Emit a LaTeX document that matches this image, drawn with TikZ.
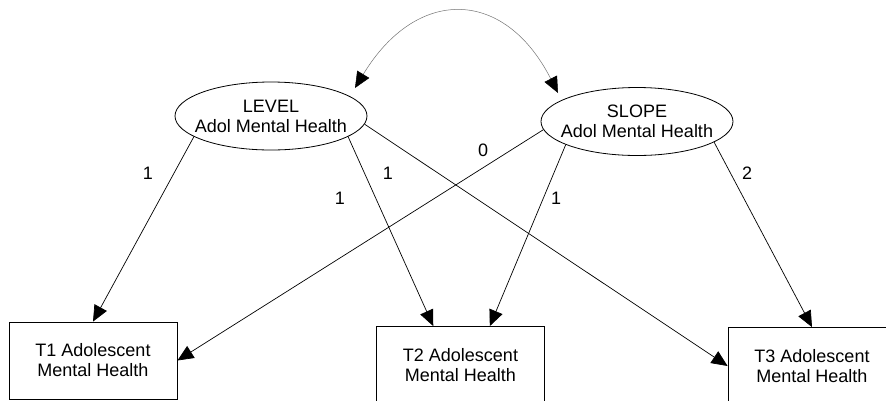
\documentclass[tikz,border=0pt]{standalone}
\usepackage{fontspec}
\setmainfont{Liberation Sans}
\usepackage{tikz}
\usetikzlibrary{
  positioning,
  arrows.meta,
  shapes.geometric,
  calc
}
\newcommand{\dgfont}{\fontsize{18}{20}\selectfont}
\tikzset{
  latent/.style={draw, ellipse, line width=0.8pt,
    minimum width=192pt, minimum height=68pt, inner sep=0pt},
  lattext/.style={align=center, font=\dgfont, inner sep=0pt},
  observed/.style={draw, rectangle, line width=0.8pt,
    minimum width=168pt, minimum height=77pt, align=center, font=\dgfont},
  load/.style={line width=0.7pt, -{Triangle[length=16pt,width=14pt]}},
  cov/.style={draw=black!55, line width=0.5pt,
    {Triangle[length=16pt,width=14pt,black]}-{Triangle[length=16pt,width=14pt,black]}},
  wt/.style={font=\dgfont, inner sep=1pt}
}

\begin{document}
\begin{tikzpicture}[x=1pt, y=-1pt]
  \useasboundingbox (0,0) rectangle (886,400);
  \clip (0,0) rectangle (886,400);
  % latente Faktoren
  \node[latent] (lvl) at (271,116) {};
  \node[lattext] (lvltxt) at (lvl) {LEVEL\\Adol Mental Health};
  \node[latent] (slp) at (637,121.5) {};
  \node[lattext] (slptxt) at (slp) {SLOPE\\Adol Mental Health};
  % Messzeitpunkte
  \node[observed] (t1) at (93,360.5) {T1 Adolescent\\Mental Health};
  \node[observed] (t2) at (460.5,365) {T2 Adolescent\\Mental Health};
  \node[observed] (t3) at (812,366) {T3 Adolescent\\Mental Health};

  % Kovarianz
  \coordinate (covl) at (355,88);
  \coordinate (covr) at (558,93);
  \draw[cov] (covl) .. controls (416,-13) and (504,-13) .. (covr);

  % Ladungen LEVEL
  \draw[load] (lvl.195) -- (t1.north);
  \draw[load] (lvl.-15) -- (t2.125);
  \draw[load] (lvl.-5) -- (t3.west);
  % Ladungen SLOPE
  \draw[load] (slp.185) -- (t1.east);
  \draw[load] (slp.198) -- (t2.53);
  \draw[load] (slp.-15) -- (t3.north);

  % Gewichte
  \node[wt] (w1) at (148,173) {1};
  \node[wt] (w2) at (340,198) {1};
  \node[wt] (w3) at (388,173) {1};
  \node[wt] (w4) at (483,150) {0};
  \node[wt] (w5) at (556,198) {1};
  \node[wt] (w6) at (747,173) {2};
\end{tikzpicture}
\end{document}
